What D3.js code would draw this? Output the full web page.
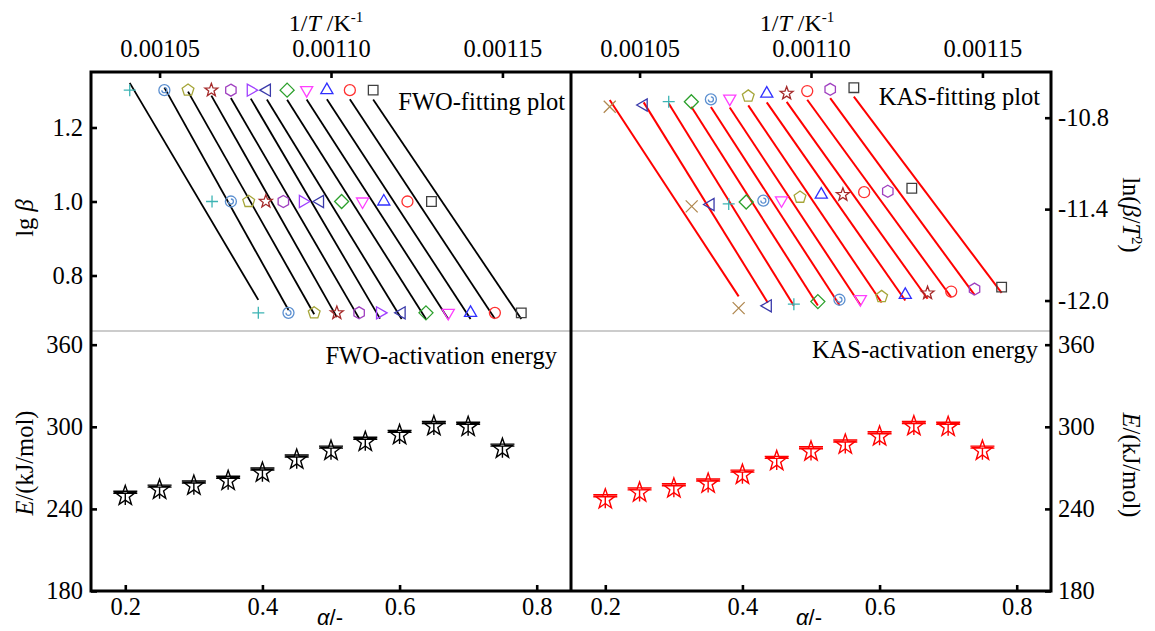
<!DOCTYPE html>
<html>
<head>
<meta charset="utf-8">
<script src="https://cdnjs.cloudflare.com/ajax/libs/d3/7.8.5/d3.min.js"></script>
<style>
  body { margin: 0; background: #fff; }
  svg { display: block; }
</style>
</head>
<body>
<svg id="chart" width="1155" height="631"></svg>
<script>
// heating rates 20, 10, 5 K/min -> lg(beta)
const lgBeta = [1.301, 1.0, 0.699];

// FWO: one series per conversion (marker order as in the figure)
const fwoMarkers = ['plus','circdot','pentagon','star','hexagon','triR','triL','diamond','triD','triU','circle','square'];
const fwoInvT20 = [0.0010413,0.0010514,0.0010583,0.0010651,0.0010708,0.0010766,0.0010813,0.0010872,0.0010929,0.0010988,0.0011055,0.0011123];
const fwoInvT10 = [0.0010653,0.0010708,0.0010760,0.0010810,0.0010861,0.0010918,0.0010968,0.0011031,0.0011092,0.0011154,0.0011223,0.0011293];
const fwoInvT5  = [0.0010788,0.0010876,0.0010951,0.0011017,0.0011082,0.0011143,0.0011206,0.0011277,0.0011342,0.0011407,0.0011478,0.0011555];

// KAS: ln(beta/T^2) vs 1/T
const kasMarkers = ['cross','triL','plus','diamond','circdot','triD','pentagon','triU','star','circle','hexagon','square'];
const kasInvT20 = [0.0010413,0.0010512,0.0010585,0.0010651,0.0010708,0.0010763,0.0010817,0.0010871,0.0010929,0.0010989,0.0011056,0.0011125];
const kasY20    = [-10.728,-10.717,-10.695,-10.695,-10.680,-10.675,-10.658,-10.642,-10.640,-10.625,-10.614,-10.603];
const kasInvT10 = [0.0010652,0.0010707,0.0010760,0.0010811,0.0010861,0.0010914,0.0010968,0.0011030,0.0011093,0.0011155,0.0011224,0.0011294];
const kasY10    = [-11.382,-11.370,-11.366,-11.353,-11.344,-11.342,-11.322,-11.305,-11.305,-11.289,-11.283,-11.263];
const kasInvT5  = [0.0010789,0.0010874,0.0010950,0.0011020,0.0011083,0.0011144,0.0011206,0.0011275,0.0011340,0.0011409,0.0011477,0.0011556];
const kasY5     = [-12.050,-12.035,-12.024,-12.007,-11.995,-11.991,-11.974,-11.963,-11.951,-11.941,-11.925,-11.912];

// activation energy vs conversion
const alphaVals = [0.2,0.25,0.3,0.35,0.4,0.45,0.5,0.55,0.6,0.65,0.7,0.75];
const fwoE = [249.5,254,257,260.5,266.5,276,282.5,289,294,300.5,300,284];
const kasE = [247,252,255,258.5,265,275,282,287,293,300.5,300,282.5];

// ticks
const invTTicks = [0.00105, 0.00110, 0.00115];
const lgTicks = [0.8, 1.0, 1.2];
const lnTicks = [-12.0, -11.4, -10.8];
const eTicks = [180, 240, 300, 360];
const alphaTicks = [0.2, 0.4, 0.6, 0.8];

const markerColor = {
  plus:'#3cb4b4', circdot:'#5b8fd0', pentagon:'#a6a63a', star:'#a52a2a', hexagon:'#a040c0',
  triR:'#a040ff', triL:'#3a3aaa', diamond:'#2ca02c', triD:'#ff40ff', triU:'#3030ff',
  circle:'#ff3030', square:'#404040', cross:'#b08850'
};

const serif = '"Liberation Serif","Times New Roman",serif';
const svg = d3.select('#chart');
const yTop = 72, ySep = 331, yBot = 591;
const left = {x0: 91, x1: 571}, right = {x0: 571, x1: 1051};

function poly(n, r, start) {
  let pts = [];
  for (let i = 0; i < n; i++) {
    let a = start + i * 2 * Math.PI / n;
    pts.push([r * Math.cos(a), r * Math.sin(a)]);
  }
  return 'M' + pts.map(p => p[0].toFixed(2) + ',' + p[1].toFixed(2)).join('L') + 'Z';
}
function starPath(r, ri) {
  let pts = [];
  for (let i = 0; i < 10; i++) {
    let a = -Math.PI / 2 + i * Math.PI / 5, rr = i % 2 ? ri : r;
    pts.push([rr * Math.cos(a), rr * Math.sin(a)]);
  }
  return 'M' + pts.map(p => p[0].toFixed(2) + ',' + p[1].toFixed(2)).join('L') + 'Z';
}
function circlePath(r) {
  return `M${r},0A${r},${r} 0 1,1 ${-r},0A${r},${r} 0 1,1 ${r},0Z`;
}
function markerPath(type) {
  switch (type) {
    case 'plus': return 'M-6,0H6M0,-6V6';
    case 'cross': return 'M-6,-6L6,6M-6,6L6,-6';
    case 'circle': return circlePath(5.5);
    case 'circdot': return circlePath(5.5) + 'M-2.5,0A2.5,2.5 0 1,0 0,-2.5';
    case 'pentagon': return poly(5, 6.2, -Math.PI / 2);
    case 'hexagon': return poly(6, 6, -Math.PI / 2);
    case 'star': return starPath(6.8, 2.8);
    case 'triU': return poly(3, 7, -Math.PI / 2);
    case 'triD': return poly(3, 7, Math.PI / 2);
    case 'triR': return poly(3, 7, 0);
    case 'triL': return poly(3, 7, Math.PI);
    case 'diamond': return poly(4, 7, -Math.PI / 2);
    case 'square': return 'M-4.8,-4.8H4.8V4.8H-4.8Z';
  }
}

function linFit(xs, ys) {
  let mx = d3.mean(xs), my = d3.mean(ys);
  let sxy = d3.sum(xs, (x, i) => (x - mx) * (ys[i] - my));
  let sxx = d3.sum(xs, x => (x - mx) * (x - mx));
  let b = sxy / sxx;
  return x => my + b * (x - mx);
}

function styleAxis(g) {
  g.select('.domain').remove();
  g.attr('font-family', serif).attr('font-size', 24.5);
  g.selectAll('.tick line').attr('stroke', '#000').attr('stroke-width', 2.6);
  g.selectAll('.tick text').attr('fill', '#000');
}

// fitting plot: rows of points + fitted line per series
function drawFitting(panel, yScale, xs3, ys3, markers, lineColor, lineW) {
  let x = d3.scaleLinear().domain([0.00103, 0.00117]).range([panel.x0, panel.x1]);
  let g = svg.append('g');
  markers.forEach(function(m, i) {
    let px = xs3.map(a => a[i]);
    let py = ys3.map(a => a[i]);
    let f = linFit(px, py);
    let x0 = d3.min(px), x1 = d3.max(px);
    g.append('line')
      .attr('x1', x(x0)).attr('y1', yScale(f(x0)))
      .attr('x2', x(x1)).attr('y2', yScale(f(x1)))
      .attr('stroke', lineColor).attr('stroke-width', lineW);
    px.forEach(function(v, j) {
      g.append('path')
        .attr('d', markerPath(m))
        .attr('transform', `translate(${x(v)},${yScale(py[j])})`)
        .attr('fill', 'none').attr('stroke', markerColor[m]).attr('stroke-width', 1.3);
    });
  });
  svg.append('g').attr('transform', `translate(0,${yTop})`)
    .call(d3.axisTop(x).tickValues(invTTicks).tickFormat(d3.format('.5f')).tickSizeInner(-6).tickSizeOuter(0).tickPadding(15))
    .call(styleAxis);
  return x;
}

function drawEnergy(panel, E, color) {
  let x = d3.scaleLinear().domain([0.15, 0.85]).range([panel.x0, panel.x1]);
  let y = d3.scaleLinear().domain([180, 370]).range([yBot, ySep]);
  let g = svg.append('g');
  alphaVals.forEach(function(a, i) {
    let s = g.append('g').attr('transform', `translate(${x(a)},${y(E[i])})`)
      .attr('fill', 'none').attr('stroke', color).attr('stroke-width', 1.4);
    s.append('path').attr('d', starPath(10.5, 4.2));
    s.append('path').attr('d', 'M-12,-4.6H12M-12,-2.6H12M0,-3V9');
  });
  svg.append('g').attr('transform', `translate(0,${yBot})`)
    .call(d3.axisBottom(x).tickValues(alphaTicks).tickFormat(d3.format('.1f')).tickSizeInner(-6).tickSizeOuter(0).tickPadding(7))
    .call(styleAxis);
  return y;
}

// ---- FWO (left) ----
let yLg = d3.scaleLinear().domain([0.65, 1.35]).range([ySep, yTop]);
drawFitting(left, yLg, [fwoInvT20, fwoInvT10, fwoInvT5], [fwoInvT20.map(() => lgBeta[0]), fwoInvT10.map(() => lgBeta[1]), fwoInvT5.map(() => lgBeta[2])], fwoMarkers, '#000', 1.8);
svg.append('g').attr('transform', `translate(${left.x0},0)`)
  .call(d3.axisLeft(yLg).tickValues(lgTicks).tickFormat(d3.format('.1f')).tickSizeInner(-6).tickSizeOuter(0).tickPadding(8))
  .call(styleAxis);
let yEL = drawEnergy(left, fwoE, '#000');
svg.append('g').attr('transform', `translate(${left.x0},0)`)
  .call(d3.axisLeft(yEL).tickValues(eTicks).tickSizeInner(-6).tickSizeOuter(0).tickPadding(8))
  .call(styleAxis);

// ---- KAS (right) ----
let yLn = d3.scaleLinear().domain([-12.2, -10.5]).range([ySep, yTop]);
drawFitting(right, yLn, [kasInvT20, kasInvT10, kasInvT5], [kasY20, kasY10, kasY5], kasMarkers, '#ff0000', 2);
svg.append('g').attr('transform', `translate(${right.x1},0)`)
  .call(d3.axisRight(yLn).tickValues(lnTicks).tickFormat(d => d.toFixed(1)).tickSizeInner(-6).tickSizeOuter(0).tickPadding(7))
  .call(styleAxis);
let yER = drawEnergy(right, kasE, '#ff0000');
svg.append('g').attr('transform', `translate(${right.x1},0)`)
  .call(d3.axisRight(yER).tickValues(eTicks).tickSizeInner(-6).tickSizeOuter(0).tickPadding(7))
  .call(styleAxis);

// frame
svg.append('line').attr('x1', left.x0).attr('x2', right.x1).attr('y1', ySep).attr('y2', ySep)
  .attr('stroke', '#9a9a9a').attr('stroke-width', 1.2);
svg.append('path')
  .attr('d', `M${left.x0},${yTop}H${right.x1}V${yBot}H${left.x0}Z M${left.x1},${yTop}V${yBot}`)
  .attr('fill', 'none').attr('stroke', '#000').attr('stroke-width', 3);

// panel captions
function caption(txt, x, y) {
  svg.append('text').attr('x', x).attr('y', y).attr('text-anchor', 'end')
    .attr('font-family', serif).attr('font-size', 24.5).attr('fill', '#000').text(txt);
}
caption('FWO-fitting plot', 565, 110);
caption('KAS-fitting plot', 1040, 105);
caption('FWO-activation energy', 557, 364);
caption('KAS-activation energy', 1038, 358);

// top titles 1/T /K^-1
[326, 797].forEach(function(cx) {
  let t = svg.append('text').attr('x', cx).attr('y', 31).attr('text-anchor', 'middle')
    .attr('font-family', serif).attr('font-size', 24).attr('fill', '#000');
  t.append('tspan').text('1/');
  t.append('tspan').attr('font-style', 'italic').text('T');
  t.append('tspan').text(' /K');
  t.append('tspan').attr('font-size', 15).attr('dy', -9).text('-1');
});

// bottom titles alpha/-
[330, 809].forEach(function(cx) {
  let t = svg.append('text').attr('x', cx).attr('y', 625).attr('text-anchor', 'middle')
    .attr('font-family', '"Liberation Sans",Arial,sans-serif').attr('font-size', 22).attr('fill', '#000');
  t.append('tspan').attr('font-style', 'italic').text('α');
  t.append('tspan').text('/-');
});

// y titles
function yTitle(x, y, rot, parts) {
  let t = svg.append('text').attr('transform', `translate(${x},${y}) rotate(${rot})`)
    .attr('text-anchor', 'middle').attr('font-family', serif).attr('font-size', 24.5).attr('fill', '#000');
  parts.forEach(function(p) {
    let s = t.append('tspan').text(p.t);
    if (p.i) s.attr('font-style', 'italic');
    if (p.sup) s.attr('font-size', 15).attr('dy', -9);
    if (p.down) s.attr('dy', 9);
  });
}
yTitle(33, 218, -90, [{t: 'lg '}, {t: 'β', i: true}]);
yTitle(33, 463, -90, [{t: 'E', i: true}, {t: '/(kJ/mol)'}]);
yTitle(1123, 215, 90, [{t: 'ln('}, {t: 'β', i: true}, {t: '/'}, {t: 'T', i: true}, {t: '2', sup: true}, {t: ')', down: true}]);
yTitle(1123, 465, 90, [{t: 'E', i: true}, {t: '/(kJ/mol)'}]);
</script>
</body>
</html>
